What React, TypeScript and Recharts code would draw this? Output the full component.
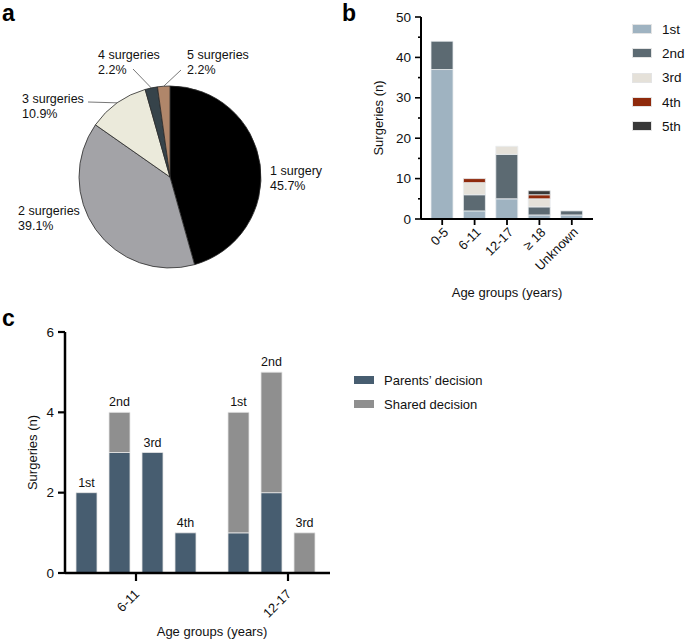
import React from 'react';
import { PieChart, Pie, Cell, BarChart, Bar, XAxis, YAxis, LabelList, Legend } from 'recharts';

const FONT = '"Liberation Sans", Arial, Helvetica, sans-serif';

// ---- a: share of patients by number of surgeries ----
const surgeryCounts = ['1 surgery', '2 surgeries', '3 surgeries', '4 surgeries', '5 surgeries'];
const surgeryShares = [45.7, 39.1, 10.9, 2.2, 2.2];
const surgeryColors = ['#000000', '#a3a3a7', '#ebeadb', '#36434a', '#b0866a'];

// ---- b: surgeries per age group, split by ordinal ----
const ageGroups = ['0-5', '6-11', '12-17', '\u2265 18', 'Unknown'];
const ordinals = ['1st', '2nd', '3rd', '4th', '5th'];
const firstSurgery = [37, 2, 5, 1, 1];
const secondSurgery = [7, 4, 11, 2, 1];
const thirdSurgery = [0, 3, 2, 2, 0];
const fourthSurgery = [0, 1, 0, 1, 0];
const fifthSurgery = [0, 0, 0, 1, 0];
const ordinalColors = ['#9fb3c1', '#5c6a72', '#e5e1d9', '#8f2a0c', '#383838'];
const ticksB = [0, 5, 10, 15, 20, 25, 30, 35, 40, 45, 50];

// ---- c: who decided, per age group and surgery ordinal ----
const decisionGroups = ['6-11', '12-17'];
const decisionOrdinals = ['1st', '2nd', '3rd', '4th'];
const parents6to11 = [2, 3, 3, 1];
const parents12to17 = [1, 2, 0, 0];
const shared6to11 = [0, 1, 0, 0];
const shared12to17 = [3, 3, 1, 0];
const decisionNames = ['Parents\u2019 decision', 'Shared decision'];
const decisionColors = ['#475d70', '#8f8f8f'];
const ticksC = [0, 2, 4, 6];

const pieData = surgeryCounts.map((name, i) => ({ name, value: surgeryShares[i] }));

const seriesB = [firstSurgery, secondSurgery, thirdSurgery, fourthSurgery, fifthSurgery];
const rowsB = ageGroups.map((age, i) => {
  const row: Record<string, any> = { age };
  ordinals.forEach((o, k) => { row[o] = seriesB[k][i]; });
  return row;
});

// each stack is labelled with its ordinal, carried by the segment on top
const parentsByGroup = [parents6to11, parents12to17];
const sharedByGroup = [shared6to11, shared12to17];
const rowsC = decisionGroups.map((group, g) => {
  const row: Record<string, any> = { group };
  decisionOrdinals.forEach((o, k) => {
    const p = parentsByGroup[g][k];
    const s = sharedByGroup[g][k];
    row['p' + k] = p;
    row['s' + k] = s;
    row['lp' + k] = s === 0 && p > 0 ? o : '';
    row['ls' + k] = s > 0 ? o : '';
  });
  return row;
});

// label placement for the pie, relative to its centre
const pieLabelPlacement = [
  { dx: 100, dy: -2, leader: null },
  { dx: -152, dy: 38, leader: null },
  { dx: -148, dy: -74, leader: [-82, -75] },
  { dx: -72, dy: -118, leader: [-37, -108] },
  { dx: 17, dy: -118, leader: [11, -107] },
];

const RAD = Math.PI / 180;

const renderPieLabel = (props: any) => {
  const { cx, cy, midAngle, outerRadius, index } = props;
  const place = pieLabelPlacement[index];
  const tx = cx + place.dx;
  const ty = cy + place.dy;
  let line = null;
  if (place.leader) {
    const ex = cx + outerRadius * Math.cos(-midAngle * RAD);
    const ey = cy + outerRadius * Math.sin(-midAngle * RAD);
    line = (
      <line x1={cx + place.leader[0]} y1={cy + place.leader[1]} x2={ex} y2={ey} stroke="#555" strokeWidth={0.8} />
    );
  }
  return (
    <g key={`pl-${index}`}>
      {line}
      <text x={tx} y={ty} fontSize={12.5} fill="#111" fontFamily={FONT}>
        {surgeryCounts[index]}
      </text>
      <text x={tx} y={ty + 15} fontSize={12.5} fill="#111" fontFamily={FONT}>
        {surgeryShares[index].toFixed(1)}%
      </text>
    </g>
  );
};

const YTickB = (props: any) => {
  const { x, y, payload } = props;
  const axisX = x + 9;
  const major = payload.value % 10 === 0;
  return (
    <g>
      <line x1={axisX} x2={axisX - (major ? 6 : 3)} y1={y} y2={y} stroke="#000" strokeWidth={1.6} />
      {major && (
        <text x={x - 1} y={y} dy={4.5} textAnchor="end" fontSize={13.5} fill="#111" fontFamily={FONT}>
          {payload.value}
        </text>
      )}
    </g>
  );
};

const AngledTick = (props: any) => {
  const { x, y, payload, shiftX, shiftY } = props;
  const ax = x + shiftX;
  const ay = y + shiftY;
  return (
    <text x={ax} y={ay} textAnchor="end" fontSize={13} fill="#111" fontFamily={FONT} transform={`rotate(-45, ${ax}, ${ay})`}>
      {payload.value}
    </text>
  );
};

const axisTitle = { fontSize: 13, fill: '#111', fontFamily: FONT };

const LegendB = () => (
  <div style={{ fontFamily: FONT, fontSize: 13.5, color: '#111' }}>
    {ordinals.map((o, i) => (
      <div key={o} style={{ display: 'flex', alignItems: 'center', height: 24.3 }}>
        <div style={{ width: 20, height: 10, background: ordinalColors[i], border: '1px solid #e4e4e4', boxSizing: 'border-box', marginRight: 10 }} />
        <span>{o}</span>
      </div>
    ))}
  </div>
);

const LegendC = () => (
  <div style={{ fontFamily: FONT, fontSize: 13, color: '#111' }}>
    {decisionNames.map((n, i) => (
      <div key={n} style={{ display: 'flex', alignItems: 'center', height: 24.3 }}>
        <div style={{ width: 20, height: 8, background: decisionColors[i], marginRight: 10 }} />
        <span>{n}</span>
      </div>
    ))}
  </div>
);

const StackLabel = (props: any) => {
  const vb = props.viewBox || props;
  const { x, y, width } = vb;
  if (!props.value) return null;
  return (
    <text x={x + width / 2} y={y - 6} textAnchor="middle" fontSize={12.5} fill="#111" fontFamily={FONT}>
      {props.value}
    </text>
  );
};

const letter = (ch: string, left: number, top: number) => (
  <div style={{ position: 'absolute', left, top, fontFamily: FONT, fontWeight: 700, fontSize: 23, lineHeight: '23px', color: '#000' }}>
    {ch}
  </div>
);

export default function App() {
  return (
    <div style={{ position: 'absolute', left: 0, top: 0, width: 685, height: 639, background: '#fff', overflow: 'hidden' }}>
      <div style={{ position: 'absolute', left: 0, top: 0 }}>
        <PieChart width={340} height={280}>
          <Pie
            data={pieData}
            dataKey="value"
            nameKey="name"
            cx={165}
            cy={172}
            outerRadius={91}
            startAngle={90}
            endAngle={-270}
            stroke="#2a2a2a"
            strokeWidth={0.8}
            label={renderPieLabel}
            labelLine={false}
            isAnimationActive={false}
          >
            {pieData.map((d, i) => (
              <Cell key={d.name} fill={surgeryColors[i]} />
            ))}
          </Pie>
        </PieChart>
      </div>

      <div style={{ position: 'absolute', left: 340, top: 0 }}>
        <BarChart width={345} height={300} data={rowsB} margin={{ top: 17, right: 92, bottom: 0, left: 0 }} barSize={22}>
          <XAxis
            dataKey="age"
            height={81}
            interval={0}
            padding={{ left: 5, right: 5 }}
            axisLine={{ stroke: '#000', strokeWidth: 2 }}
            tickLine={{ stroke: '#000', strokeWidth: 1.8 }}
            tickSize={6}
            tickMargin={2}
            tick={<AngledTick shiftX={7} shiftY={6} />}
            label={{ value: 'Age groups (years)', position: 'insideBottom', offset: 3, style: axisTitle }}
          />
          <YAxis
            width={81}
            domain={[0, 50]}
            ticks={ticksB}
            interval={0}
            axisLine={{ stroke: '#000', strokeWidth: 2 }}
            tickLine={false}
            tickSize={6}
            tickMargin={3}
            tick={<YTickB />}
            label={{ value: 'Surgeries (n)', angle: -90, position: 'center', dx: -2, style: axisTitle }}
          />
          <Legend
            layout="vertical"
            align="center"
            verticalAlign="middle"
            content={<LegendB />}
            wrapperStyle={{ position: 'absolute', left: 292, top: 17, width: 60 }}
          />
          {ordinals.map((o, i) => (
            <Bar key={o} dataKey={o} stackId="all" fill={ordinalColors[i]} stroke="#e8ecef" strokeWidth={0.8} isAnimationActive={false} />
          ))}
        </BarChart>
      </div>

      <div style={{ position: 'absolute', left: 0, top: 300 }}>
        <BarChart width={685} height={339} data={rowsC} margin={{ top: 32, right: 355, bottom: 0, left: 0 }} barSize={21} barGap={12}>
          <XAxis
            dataKey="group"
            height={66}
            interval={0}
            padding={{ left: -5, right: -34 }}
            axisLine={{ stroke: '#000', strokeWidth: 2.5 }}
            tickLine={{ stroke: '#000', strokeWidth: 2.2 }}
            tickSize={8}
            tickMargin={2}
            tick={<AngledTick shiftX={4} shiftY={12} />}
            label={{ value: 'Age groups (years)', position: 'insideBottom', offset: 3, dx: 14.5, style: axisTitle }}
          />
          <YAxis
            width={65}
            domain={[0, 6]}
            ticks={ticksC}
            interval={0}
            axisLine={{ stroke: '#000', strokeWidth: 2.5 }}
            tickLine={{ stroke: '#000', strokeWidth: 2.2 }}
            tickSize={7}
            tickMargin={4}
            tick={{ fontSize: 13.5, fill: '#111', fontFamily: FONT }}
            label={{ value: 'Surgeries (n)', angle: -90, position: 'center', style: axisTitle }}
          />
          <Legend
            layout="vertical"
            align="center"
            verticalAlign="middle"
            content={<LegendC />}
            wrapperStyle={{ position: 'absolute', left: 354, top: 68, width: 160 }}
          />
          {decisionOrdinals.map((o, k) => [
            <Bar key={'p' + k} dataKey={'p' + k} stackId={o} fill={decisionColors[0]} stroke="#e6e6e6" strokeWidth={0.8} isAnimationActive={false}>
              <LabelList dataKey={'lp' + k} content={StackLabel} />
            </Bar>,
            <Bar key={'s' + k} dataKey={'s' + k} stackId={o} fill={decisionColors[1]} stroke="#e6e6e6" strokeWidth={0.8} isAnimationActive={false}>
              <LabelList dataKey={'ls' + k} content={StackLabel} />
            </Bar>,
          ])}
        </BarChart>
      </div>

      {letter('a', 2, 2)}
      {letter('b', 342, 2)}
      {letter('c', 2, 307)}
    </div>
  );
}
